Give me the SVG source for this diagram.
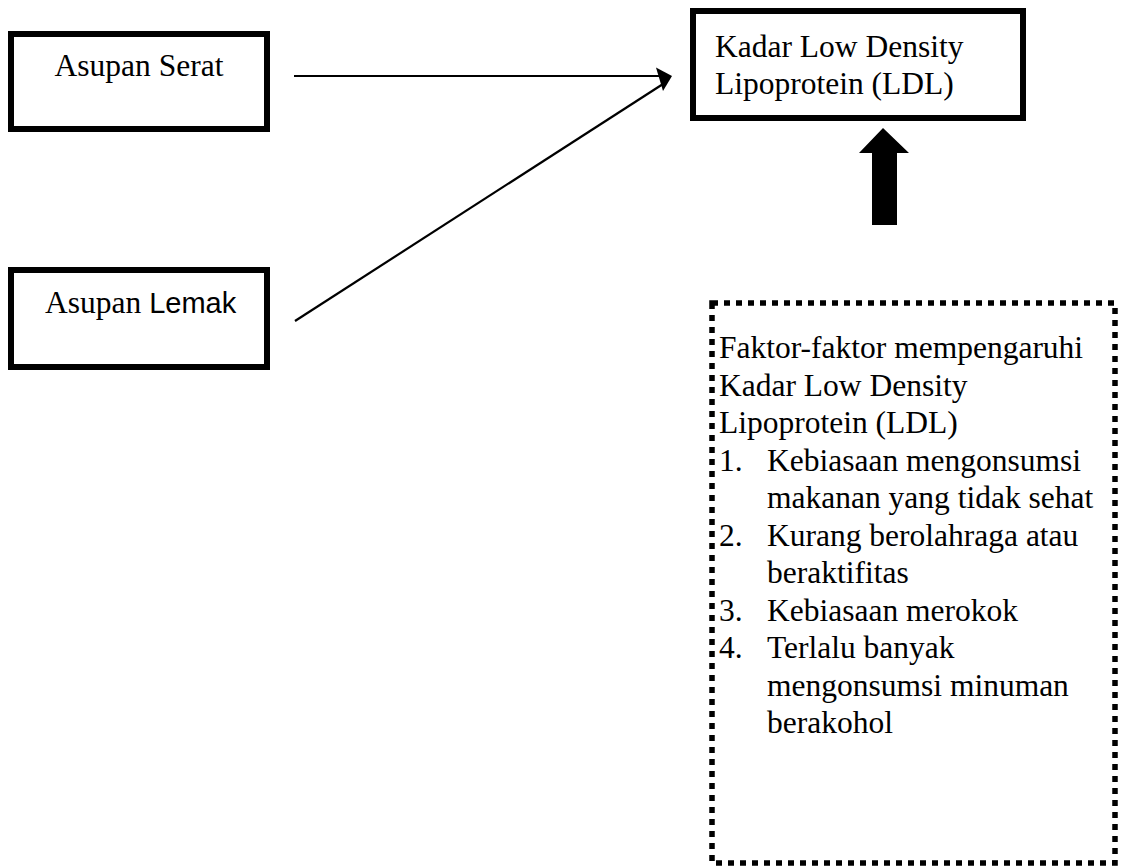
<svg xmlns="http://www.w3.org/2000/svg" width="1121" height="868" viewBox="0 0 1121 868">
<style>
.box{fill:#fff;stroke:#000;stroke-width:6}
.dot{fill:none;stroke:#000;stroke-width:5.5;stroke-dasharray:6 6}
.t{font-family:"Liberation Serif","Times New Roman",serif;font-size:31.5px;fill:#000}
.s{font-family:"Liberation Sans",Arial,sans-serif}
.ln{stroke:#000;stroke-width:2.2;fill:none}
</style>
<g id="connectors">
<line class="ln" x1="294" y1="76" x2="662" y2="76"/>
<line class="ln" x1="295" y1="321" x2="663" y2="84"/>
<polygon points="672,76 656,67.5 663,91" fill="#000"/>
<path id="bigarrow" d="M883,128 L909,153 L897,153 L897,225 L872,225 L872,153 L859,153 Z" fill="#000"/>
</g>
<g id="asupan-serat">
<rect class="box" x="11" y="34" width="256" height="95"/>
<text class="t" x="139" y="76" text-anchor="middle">Asupan Serat</text>
</g>
<g id="asupan-lemak">
<rect class="box" x="11" y="270" width="256" height="97"/>
<text class="t" x="45" y="313">Asupan <tspan class="s" font-size="29">Lemak</tspan></text>
</g>
<g id="kadar-ldl">
<rect class="box" x="693" y="11" width="330" height="107"/>
<text class="t" x="715" y="57">Kadar Low Density</text>
<text class="t" x="715" y="94">Lipoprotein (LDL)</text>
</g>
<g id="faktor">
<rect class="dot" x="712" y="303" width="403" height="560"/>
<text class="t" x="719" y="358">Faktor-faktor mempengaruhi</text>
<text class="t" x="719" y="395.5">Kadar Low Density</text>
<text class="t" x="719" y="433">Lipoprotein (LDL)</text>
<text class="t" x="719" y="470.5">1.</text>
<text class="t" x="767" y="470.5">Kebiasaan mengonsumsi</text>
<text class="t" x="767" y="508">makanan yang tidak sehat</text>
<text class="t" x="719" y="545.5">2.</text>
<text class="t" x="767" y="545.5">Kurang berolahraga atau</text>
<text class="t" x="767" y="583">beraktifitas</text>
<text class="t" x="719" y="620.5">3.</text>
<text class="t" x="767" y="620.5">Kebiasaan merokok</text>
<text class="t" x="719" y="658">4.</text>
<text class="t" x="767" y="658">Terlalu banyak</text>
<text class="t" x="767" y="695.5">mengonsumsi minuman</text>
<text class="t" x="767" y="733">berakohol</text>
</g>
</svg>
